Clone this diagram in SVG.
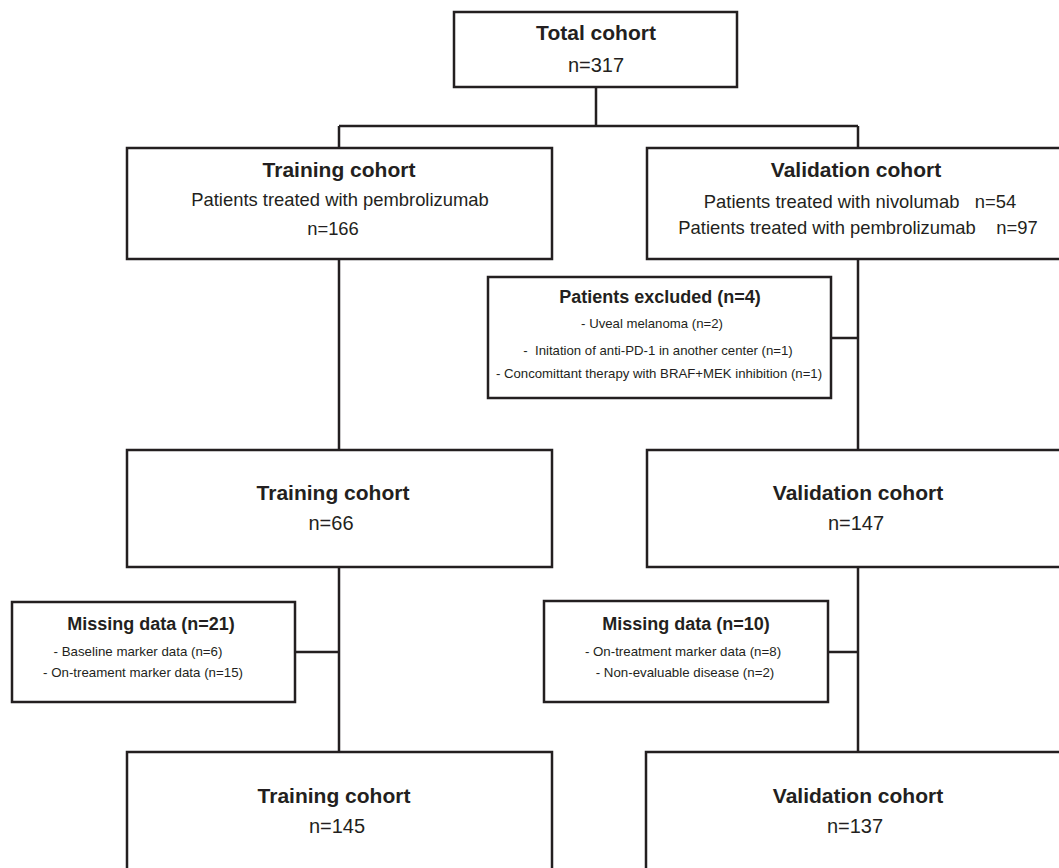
<svg xmlns="http://www.w3.org/2000/svg" width="1059" height="868" viewBox="0 0 1059 868">
<style>
.box{fill:#fff;stroke:#231f20;stroke-width:2.5}
.ln{fill:none;stroke:#231f20;stroke-width:2.5}
text{font-family:"Liberation Sans",Arial,sans-serif;fill:#231f20;text-anchor:middle}
.t{font-weight:bold;font-size:21px}
.r{font-size:18.4px}
.n{font-size:20px}
.st{font-weight:bold;font-size:18px}
.s{font-size:13.2px}
.m{font-size:13.3px}
</style>
<rect width="1059" height="868" fill="#fff"/>
<g id="connectors">
<path class="ln" d="M596,87 V126 M339,126 H858 M339,126 V148 M858,126 V148"/>
<path class="ln" d="M339,259 V450 M339,567 V752 M295,652 H339"/>
<path class="ln" d="M858,259 V450 M858,567 V752 M831,338 H858 M828,652 H858"/>
</g>
<g id="total">
<rect class="box" x="454" y="12" width="283" height="75"/>
<text class="t" x="596" y="40">Total cohort</text>
<text class="n" x="596" y="72">n=317</text>
</g>
<g id="training1">
<rect class="box" x="127" y="148" width="425" height="111"/>
<text class="t" x="339" y="177">Training cohort</text>
<text class="r" x="340" y="206">Patients treated with pembrolizumab</text>
<text class="r" x="333" y="235">n=166</text>
</g>
<g id="validation1">
<rect class="box" x="647" y="148" width="425" height="111"/>
<text class="t" x="856" y="177">Validation cohort</text>
<text class="r" x="860" y="208" xml:space="preserve">Patients treated with nivolumab   n=54</text>
<text class="r" x="858" y="234" xml:space="preserve">Patients treated with pembrolizumab    n=97</text>
</g>
<g id="excluded">
<rect class="box" x="488" y="277" width="343" height="121"/>
<text class="st" x="660" y="303">Patients excluded (n=4)</text>
<text class="s" x="652" y="328">- Uveal melanoma (n=2)</text>
<text class="s" x="658" y="355" xml:space="preserve">-  Initation of anti-PD-1 in another center (n=1)</text>
<text class="s" x="659" y="378">- Concomittant therapy with BRAF+MEK inhibition (n=1)</text>
</g>
<g id="training2">
<rect class="box" x="127" y="450" width="425" height="117"/>
<text class="t" x="333" y="500">Training cohort</text>
<text class="n" x="331" y="530">n=66</text>
</g>
<g id="validation2">
<rect class="box" x="647" y="450" width="425" height="117"/>
<text class="t" x="858" y="500">Validation cohort</text>
<text class="n" x="856" y="530">n=147</text>
</g>
<g id="missing1">
<rect class="box" x="12" y="602" width="283" height="100"/>
<text class="st" x="151" y="630">Missing data (n=21)</text>
<text class="m" x="138" y="656">- Baseline marker data (n=6)</text>
<text class="m" x="143" y="677">- On-treament marker data (n=15)</text>
</g>
<g id="missing2">
<rect class="box" x="544" y="601" width="284" height="101"/>
<text class="st" x="686" y="630">Missing data (n=10)</text>
<text class="m" x="683" y="656">- On-treatment marker data (n=8)</text>
<text class="m" x="685" y="677">- Non-evaluable disease (n=2)</text>
</g>
<g id="training3">
<rect class="box" x="127" y="752" width="425" height="130"/>
<text class="t" x="334" y="803">Training cohort</text>
<text class="n" x="337" y="833">n=145</text>
</g>
<g id="validation3">
<rect class="box" x="646" y="752" width="425" height="130"/>
<text class="t" x="858" y="803">Validation cohort</text>
<text class="n" x="855" y="833">n=137</text>
</g>
</svg>
